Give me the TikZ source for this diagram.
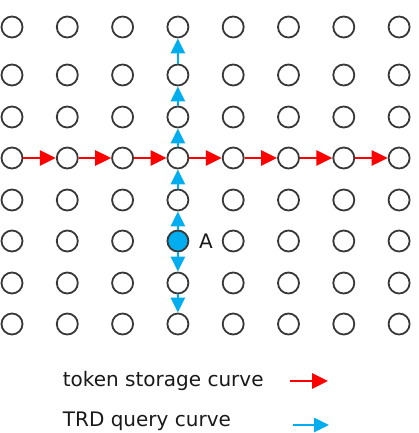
\documentclass[tikz,border=0pt]{standalone}
\usepackage{fontspec}
\setmainfont{DejaVu Sans}
\usetikzlibrary{arrows.meta,positioning}
\definecolor{qblue}{RGB}{0,174,239}
\def\colsep{55.3}

\begin{document}
\begin{tikzpicture}[x=1pt,y=-1pt,line width=1.8pt]
    \tikzstyle{cell}=[circle,draw=black!78,fill=white,minimum size=21pt,inner sep=0pt]
    \tikzstyle{cell 4-6}=[fill=qblue]
    \tikzstyle{store}=[draw=red,line width=2.7pt,-{Triangle[length=16pt,width=15pt]}]
    \tikzstyle{query}=[draw=qblue,line width=2.7pt,-{Triangle[length=15pt,width=14pt]}]
    \tikzstyle{annot}=[font=\fontsize{20}{24}\selectfont,text=black!90,inner sep=2pt]

    \useasboundingbox (0,0) rectangle (419,433);

    % grid of cells
    \foreach \row/\y in {1/27,2/75,3/117,4/158,5/200,6/241,7/283,8/324}
        \foreach \col in {1,...,8}
            \node[cell,cell \col-\row/.try] (P-\col-\row) at ({12+(\col-1)*\colsep},\y) {};

    \node[annot,right=7pt of P-4-6] (lA) {A};

    % storage curve along row 4
    \foreach \col [count=\next from 2] in {1,...,7}
        \draw[store] (P-\col-4) -- (P-\next-4);

    % query curve from A, up and down
    \foreach \row [evaluate=\row as \up using int(\row-1)] in {6,5,4,3,2}
        \draw[query] (P-4-\row) -- (P-4-\up);
    \draw[query] (P-4-6) -- (P-4-7);
    \draw[query] (P-4-7) -- (P-4-8);

    % legend
    \node[annot,anchor=west] (lg-store) at (60,381) {token storage curve};
    \node[annot,anchor=west] (lg-query) at (60,421) {TRD query curve};
    \coordinate (s0) at (290,381);
    \coordinate (s1) at (328,381);
    \coordinate (q0) at (293,425);
    \coordinate (q1) at (329,425);
    \draw[store] (s0) -- (s1);
    \draw[query] (q0) -- (q1);
\end{tikzpicture}
\end{document}
